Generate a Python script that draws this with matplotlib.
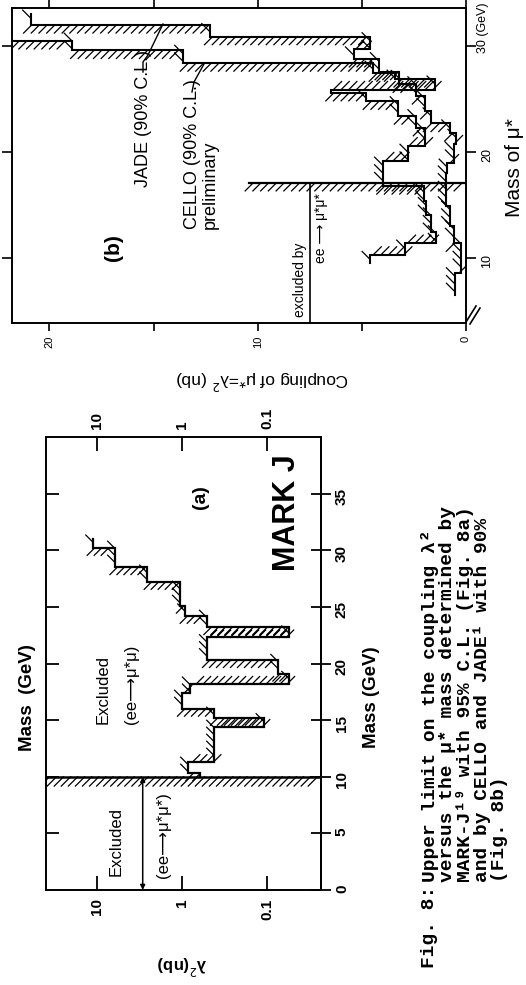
import matplotlib
matplotlib.use('Agg')
import matplotlib.pyplot as plt
from matplotlib import patheffects as pe
from matplotlib.lines import Line2D
from matplotlib.ticker import NullLocator

# size of the scanned page in pixels
W, H = 526, 985

# ---------------- data ----------------
# (a) MARK J: mass bin edges (GeV) and 95% C.L. upper limit on lambda^2 (nb)
markj_mass = [10.0, 10.3, 11.3, 14.4, 15.2, 16.0, 17.4, 18.2, 19.1, 20.3,
              22.3, 23.2, 24.2, 25.1, 27.2, 28.5, 30.2, 31.0]
markj_limit = [0.61, 0.85, 0.42, 0.11, 0.42, 1.0, 0.81, 0.055, 0.074, 0.51,
               0.055, 0.51, 0.92, 1.06, 2.58, 6.14, 11.1]
markj_pair_mass = 10.0

# (b) CELLO (preliminary) and JADE, 90% C.L., coupling in nb
cello_mass = [9.5, 10.3, 11.4, 12.5, 14.1, 15.4, 16.8, 19.2, 20.6, 22.3,
              23.4, 24.8, 25.6, 25.9, 26.9, 27.45, 28.4, 29.6, 30.5]
cello_limit = [4.6, 2.94, 1.42, 1.66, 1.9, 2.0, 4.0, 2.78, 1.95, 2.4,
               3.25, 4.78, 6.46, 1.48, 3.4, 4.45, 13.6, 18.9]
jade_mass = [6.5, 8.6, 11.4, 13.0, 14.9, 18.0, 19.0, 20.8, 21.8, 22.7,
             23.9, 25.3, 26.4, 27.6, 28.8, 29.7, 30.9, 32.0, 33.0]
jade_limit = [0.55, 0.23, 0.6, 0.78, 0.94, 0.9, 0.6, 0.48, 0.77, 1.67,
              1.96, 2.4, 3.2, 4.2, 5.4, 4.6, 12.3, 20.9]
petra_pair_mass = 17.1

SANS = ['Liberation Sans', 'DejaVu Sans']
MONO = ['Liberation Mono', 'DejaVu Sans Mono']
plt.rcParams['font.family'] = SANS


def steps(edges, vals):
    xs, ys = [], []
    for i, v in enumerate(vals):
        xs += [v, v]
        ys += [edges[i], edges[i + 1]]
    return xs, ys


def hatched(ax, xs, ys, lw=1.5, spacing=5, length=1.5):
    # ticks on the left of the walking direction = excluded side
    ax.plot(xs, ys, color='k', lw=lw, solid_joinstyle='miter',
            path_effects=[pe.TickedStroke(spacing=spacing, angle=45, length=length, linewidth=0.9),
                          pe.Normal()])


def ftext(x, y, s, **kw):
    fig.text(x / W, 1 - y / H, s, **kw)


def fline(xs, ys, lw=1.0):
    fig.add_artist(Line2D([x / W for x in xs], [1 - y / H for y in ys],
                          color='k', lw=lw, transform=fig.transFigure))


def box(l, t, r, b):
    return [l / W, 1 - b / H, (r - l) / W, (b - t) / H]


fig = plt.figure(figsize=(W / 100, H / 100), dpi=100)

# ================= panel (a) MARK J =================
axa = fig.add_axes(box(46, 437, 321, 890))
axa.set_xscale('log')
axa.set_xlim(39.8, 0.0232)
axa.set_ylim(0, 40)
for s in axa.spines.values():
    s.set_linewidth(1.4)

xs, ys = steps(markj_mass, markj_limit)
hatched(axa, xs, ys, lw=1.6, spacing=5, length=1.5)
hatched(axa, [0.0232, 39.8], [markj_pair_mass, markj_pair_mass], lw=1.8, spacing=5, length=1.9)
axa.annotate('', xy=(2.9, 0), xytext=(2.9, markj_pair_mass),
             arrowprops=dict(arrowstyle='<|-|>', lw=1.1, color='k', mutation_scale=7,
                             shrinkA=0, shrinkB=0))

axa.set_xticks([10, 1, 0.1], labels=['10', '1', '0.1'])
axa.xaxis.set_minor_locator(NullLocator())
axa.tick_params(axis='x', direction='in', length=10, width=1.3, top=True, labeltop=True,
                labelrotation=90, labelsize=11, pad=6)
axa.set_yticks(range(5, 40, 5))
axa.tick_params(axis='y', direction='in', length=9, width=1.3, labelleft=False)
sec = axa.secondary_yaxis('right')
sec.set_yticks(range(0, 40, 5))
sec.tick_params(direction='inout', length=14, width=1.3, labelrotation=90, labelsize=11, pad=3)
sec.spines['right'].set_linewidth(1.4)
for lab in axa.get_xticklabels() + sec.get_yticklabels():
    lab.set_fontweight('bold')

ftext(28, 698, 'Mass  (GeV)', rotation=90, ha='center', va='center', fontsize=13.5, fontweight='bold')
ftext(371, 697, 'Mass (GeV)', rotation=90, ha='center', va='center', fontsize=13.5, fontweight='bold')
ftext(182, 965, 'λ$^2$(nb)', rotation=180, ha='center', va='center', fontsize=12, fontweight='bold')
ftext(287, 513, 'MARK J', rotation=90, ha='center', va='center', fontsize=22, fontweight='bold')
ftext(201, 497, '(a)', rotation=90, ha='center', va='center', fontsize=14, fontweight='bold')
ftext(116, 842, 'Excluded', rotation=90, ha='center', va='center', fontsize=12)
ftext(163, 835, '(ee⟶μ*μ*)', rotation=90, ha='center', va='center', fontsize=12)
ftext(103, 690, 'Excluded', rotation=90, ha='center', va='center', fontsize=12)
ftext(131, 684, '(ee⟶μ*μ)', rotation=90, ha='center', va='center', fontsize=12)

# ================= panel (b) CELLO / JADE =================
axb = fig.add_axes(box(12, 8, 466, 323))
axb.set_xlim(21.8, 0)
axb.set_ylim(3.87, 33.6)
for s in axb.spines.values():
    s.set_linewidth(1.4)

xs, ys = steps(jade_mass, jade_limit)
hatched(axb, xs, ys, lw=1.5, spacing=5.5, length=1.5)
xs, ys = steps(cello_mass, cello_limit)
hatched(axb, xs + [22.0], ys + [cello_mass[-1]], lw=1.5, spacing=5.5, length=1.5)
hatched(axb, [0, 10.4], [petra_pair_mass, petra_pair_mass], lw=1.6, spacing=5.5, length=1.5)
axb.plot([7.5, 7.5], [3.87, petra_pair_mass], color='k', lw=1.2)

axb.set_xticks([0, 5, 10, 15, 20], labels=['0', '', '10', '', '20'])
axb.tick_params(axis='x', direction='out', length=6, width=1.2, top=True,
                labelrotation=90, labelsize=8, pad=3)
axb.set_yticks([10, 20, 30], labels=['10', '20', ''])
axb.tick_params(axis='y', direction='out', length=7, width=1.2, right=True,
                labelleft=False, labelright=True, labelrotation=90, labelsize=9, pad=4)

ftext(483, 53, '30 (GeV)', rotation=90, ha='center', va='bottom', fontsize=9)
ftext(514, 168, 'Mass of μ*', rotation=90, ha='center', va='center', fontsize=15)
ftext(262, 380, 'Coupling of μ*=λ$^2$ (nb)', rotation=180, ha='center', va='center', fontsize=12.5)
ftext(143, 187, 'JADE (90% C.L.)', rotation=90, ha='center', va='bottom', fontsize=13)
ftext(193, 229, 'CELLO (90% C.L.)', rotation=90, ha='center', va='bottom', fontsize=13)
ftext(210, 229, 'preliminary', rotation=90, ha='center', va='bottom', fontsize=13)
ftext(113, 248, '(b)', rotation=90, ha='center', va='center', fontsize=15, fontweight='bold')
ftext(300, 280, 'excluded by', rotation=90, ha='center', va='center', fontsize=10)
ftext(321, 228, 'ee ⟶ μ*μ*', rotation=90, ha='center', va='center', fontsize=10)
fline([143, 143, 148, 163], [72, 62, 55, 24])
fline([192, 194, 204], [92, 82, 64])
fline([466, 476], [322, 306], lw=1.2)
fline([470, 480], [324, 308], lw=1.2)

# ================= caption =================
ftext(430, 968, 'Fig. 8:', rotation=90, ha='center', va='bottom', fontsize=14,
      family=MONO, fontweight='bold')
caption = ['Upper limit on the coupling λ²',
           'versus the μ* mass determined by',
           'MARK-J¹⁹ with 95% C.L. (Fig. 8a)',
           'and by CELLO and JADE¹ with 90%',
           '(Fig. 8b)']
for i, line in enumerate(caption):
    ftext(430 + 17.5 * i, 882, line, rotation=90, ha='center', va='bottom', fontsize=14,
          family=MONO, fontweight='bold')

fig.savefig('out.png', dpi=100)
